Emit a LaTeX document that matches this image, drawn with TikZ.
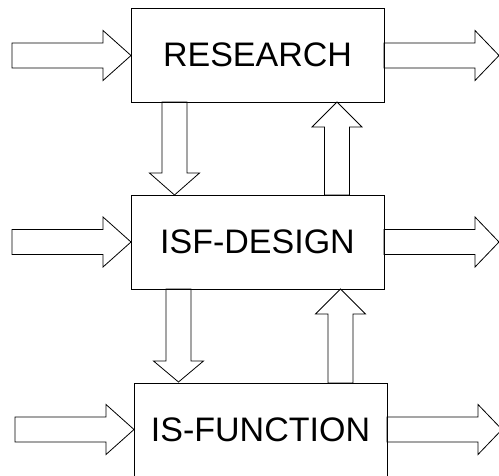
\documentclass[tikz,border=0pt]{standalone}
\usepackage{fontspec}
\setmainfont{Liberation Sans}
\tikzset{
  box/.style={draw=black, line width=0.8pt, inner sep=0pt, minimum width=253pt,
    font=\fontsize{34}{40}\selectfont},
  blockarrow/.style={draw=black, line width=0.8pt, line join=miter}
}
% horizontal right-pointing block arrow: x0, xbase, xtip, ycentre
\newcommand\harrowshape[4]{%
  \draw[blockarrow] (#1,#4-12.5) -- (#2,#4-12.5) -- (#2,#4-25) -- (#3,#4)
    -- (#2,#4+25) -- (#2,#4+12.5) -- (#1,#4+12.5) -- cycle;}
% vertical block arrow: xcentre, y0, ybase, ytip
\newcommand\varrowshape[4]{%
  \draw[blockarrow] (#1-12.5,#2) -- (#1-12.5,#3) -- (#1-25,#3) -- (#1,#4)
    -- (#1+25,#3) -- (#1+12.5,#3) -- (#1+12.5,#2) -- cycle;}
\begin{document}
\begin{tikzpicture}[x=1pt,y=-1pt]
\useasboundingbox (0,0) rectangle (499,475);
\clip (0,0) rectangle (499,475);
\node[box, minimum height=94pt] (research) at (257.5,55) {RESEARCH};
\node[box, minimum height=94pt] (isf) at (257.5,242) {ISF-DESIGN};
\node[box, minimum height=93pt] (isfun) at (260.5,429.5) {IS-FUNCTION};
% inputs and outputs
\harrowshape{12}{103}{131}{55.5}
\harrowshape{384}{475}{499}{55.5}
\harrowshape{12}{103}{131}{242}
\harrowshape{384}{475}{499}{242}
\harrowshape{15}{106}{134}{429.5}
\harrowshape{387}{478}{502}{429.5}
% between boxes
\varrowshape{174.5}{102}{173}{195}
\varrowshape{337}{195}{127}{102}
\varrowshape{178.5}{289}{361}{382}
\varrowshape{340.5}{383}{314}{289}
\end{tikzpicture}
\end{document}
